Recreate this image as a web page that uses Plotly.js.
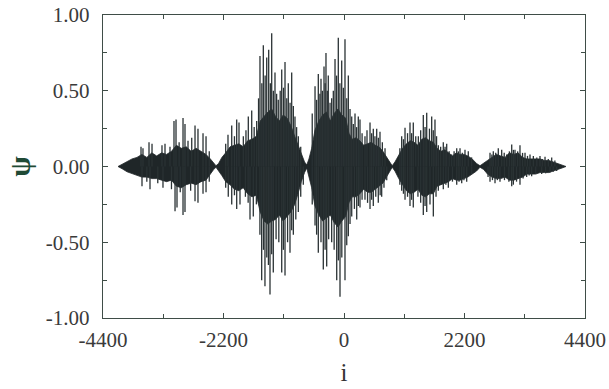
<!DOCTYPE html>
<html>
<head>
<meta charset="utf-8">
<script src="https://cdn.plot.ly/plotly-3.0.1.min.js"></script>
<style>html,body{margin:0;padding:0;background:#fff;}#chart{width:609px;height:389px;}</style>
</head>
<body>
<div id="chart"></div>
<script>
// Dense core of psi: upper and lower edge
const coreI = [-4126,-4050,-3960,-3870,-3780,-3690,-3600,-3510,-3420,-3330,-3240,-3150,-3060,-2970,-2880,-2790,-2700,-2610,-2520,-2440,-2380,-2337,
  -2290,-2230,-2160,-2080,-2000,-1920,-1840,-1760,-1680,-1600,-1530,-1460,-1390,-1320,-1250,-1180,-1110,-1040,-970,-900,-840,-780,-720,-680,
  -640,-590,-530,-460,-390,-320,-250,-180,-110,-40,30,90,150,220,290,360,430,500,570,640,710,780,840,880,
  930,1000,1070,1140,1210,1280,1350,1420,1490,1560,1630,1700,1770,1840,1910,1980,2050,2120,2190,2260,2340,2420,2483,
  2550,2620,2700,2780,2860,2940,3020,3100,3180,3260,3340,3420,3500,3580,3660,3740,3820,3900,3980,4053];
const coreUp = [0,0.015,0.03,0.05,0.06,0.08,0.06,0.09,0.07,0.09,0.08,0.10,0.14,0.12,0.13,0.10,0.12,0.10,0.08,0.05,0.02,0.005,
  0.02,0.06,0.09,0.13,0.14,0.15,0.13,0.17,0.18,0.20,0.30,0.33,0.36,0.38,0.33,0.30,0.34,0.32,0.27,0.20,0.14,0.08,0.03,0.01,
  0.05,0.12,0.24,0.30,0.34,0.36,0.30,0.35,0.38,0.34,0.32,0.22,0.18,0.19,0.17,0.14,0.15,0.16,0.14,0.13,0.10,0.06,0.02,0.005,
  0.03,0.08,0.12,0.15,0.17,0.16,0.14,0.18,0.19,0.17,0.16,0.12,0.10,0.11,0.09,0.07,0.09,0.08,0.08,0.07,0.05,0.02,0.005,
  0.02,0.04,0.06,0.08,0.07,0.06,0.09,0.08,0.09,0.06,0.05,0.05,0.05,0.05,0.04,0.04,0.03,0.02,0.01,0];
const coreDn = [0,-0.015,-0.035,-0.045,-0.06,-0.07,-0.07,-0.08,-0.08,-0.09,-0.10,-0.09,-0.13,-0.14,-0.12,-0.11,-0.12,-0.10,-0.09,-0.05,-0.02,-0.005,
  -0.03,-0.06,-0.10,-0.12,-0.15,-0.16,-0.14,-0.18,-0.20,-0.19,-0.30,-0.36,-0.38,-0.36,-0.35,-0.32,-0.36,-0.33,-0.30,-0.25,-0.18,-0.10,-0.04,-0.01,
  -0.06,-0.14,-0.26,-0.32,-0.36,-0.34,-0.32,-0.37,-0.40,-0.36,-0.33,-0.24,-0.20,-0.20,-0.18,-0.15,-0.17,-0.17,-0.15,-0.13,-0.11,-0.07,-0.03,-0.005,
  -0.03,-0.08,-0.12,-0.16,-0.18,-0.17,-0.15,-0.19,-0.20,-0.18,-0.18,-0.13,-0.12,-0.11,-0.10,-0.08,-0.09,-0.09,-0.08,-0.07,-0.05,-0.03,-0.005,
  -0.02,-0.05,-0.07,-0.08,-0.08,-0.07,-0.09,-0.09,-0.08,-0.07,-0.05,-0.05,-0.05,-0.04,-0.04,-0.04,-0.03,-0.02,-0.01,0];

// Upward peaks of psi
const peakUpI = [-3706,-3670,-3560,-3505,-3323,-3268,-3177,-3104,-3067,-3010,-2939,-2903,-2848,-2780,-2720,-2666,-2574,-2519,-2460,
  -2160,-2118,-2050,-2000,-1959,-1917,-1838,-1790,-1747,-1685,-1640,-1594,-1560,-1534,-1500,-1473,-1440,-1411,-1375,-1345,-1320,-1290,-1260,-1230,-1200,-1165,-1137,-1105,-1077,-1045,-1017,-985,-955,-925,-895,-865,-834,-790,
  -580,-529,-500,-469,-440,-420,-395,-365,-345,-329,-305,-287,-255,-225,-195,-164,-135,-104,-75,-42,-12,18,50,79,110,141,170,201,230,261,292,330,383,420,475,505,535,565,597,627,657,700,749,
  1020,1053,1085,1114,1160,1205,1235,1265,1310,1357,1400,1448,1480,1510,1560,1601,1630,1661,1690,1722,1765,1813,1845,1875,1920,1966,2010,2058,2088,2118,2160,2209,2269,2330,
  2666,2700,2726,2770,2817,2879,2925,2970,3020,3062,3092,3122,3170,3213,3260,3305,3350,3396,3457,3520,3578,3620,3670,3730,3792,3850];
const peakUpPsi = [0.13,0.12,0.16,0.15,0.14,0.15,0.13,0.30,0.31,0.16,0.32,0.28,0.17,0.19,0.27,0.25,0.22,0.20,0.10,
  0.15,0.21,0.27,0.20,0.31,0.29,0.20,0.24,0.33,0.37,0.26,0.30,0.45,0.73,0.55,0.80,0.60,0.72,0.77,0.55,0.88,0.50,0.62,0.48,0.44,0.50,0.64,0.52,0.69,0.45,0.55,0.42,0.62,0.40,0.33,0.26,0.20,0.13,
  0.35,0.53,0.44,0.61,0.48,0.58,0.50,0.66,0.55,0.75,0.50,0.60,0.42,0.45,0.50,0.71,0.60,0.85,0.55,0.70,0.52,0.84,0.45,0.60,0.38,0.33,0.28,0.35,0.26,0.33,0.31,0.22,0.20,0.24,0.29,0.22,0.25,0.20,0.25,0.19,0.23,0.16,0.12,
  0.12,0.20,0.18,0.255,0.22,0.29,0.22,0.29,0.20,0.20,0.24,0.34,0.26,0.355,0.25,0.33,0.24,0.31,0.20,0.14,0.13,0.16,0.13,0.15,0.10,0.08,0.10,0.12,0.10,0.12,0.09,0.11,0.10,0.06,
  0.09,0.08,0.10,0.09,0.12,0.11,0.09,0.08,0.10,0.145,0.11,0.11,0.10,0.14,0.09,0.09,0.07,0.08,0.07,0.06,0.07,0.05,0.065,0.05,0.06,0.04];

// Downward peaks of psi
const peakDnI = [-3688,-3600,-3542,-3400,-3305,-3150,-3085,-3049,-2990,-2939,-2903,-2800,-2720,-2666,-2574,-2519,-2460,
  -2160,-2113,-2050,-2000,-1959,-1899,-1800,-1750,-1716,-1656,-1600,-1535,-1503,-1470,-1443,-1410,-1380,-1351,-1320,-1291,-1240,-1190,-1137,-1107,-1077,-1030,-986,-955,-925,-880,-834,-790,-743,
  -580,-529,-500,-469,-420,-378,-345,-316,-280,-225,-180,-133,-103,-73,-40,18,50,79,110,141,190,232,262,292,330,383,430,475,505,535,580,626,660,688,730,780,
  1020,1053,1085,1114,1160,1205,1235,1265,1350,1400,1448,1480,1510,1570,1631,1680,1722,1765,1813,1860,1905,1980,2058,2100,2149,2190,2240,2331,
  2630,2666,2710,2757,2800,2848,2930,3010,3062,3092,3150,3213,3270,3335,3380,3426,3500,3609,3680,3761,3820,3883];
const peakDnPsi = [-0.13,-0.10,-0.15,-0.11,-0.14,-0.15,-0.295,-0.27,-0.17,-0.32,-0.30,-0.16,-0.23,-0.24,-0.18,-0.17,-0.10,
  -0.14,-0.20,-0.25,-0.19,-0.28,-0.25,-0.20,-0.24,-0.35,-0.33,-0.25,-0.45,-0.75,-0.55,-0.79,-0.60,-0.65,-0.845,-0.58,-0.70,-0.48,-0.50,-0.70,-0.55,-0.72,-0.50,-0.57,-0.42,-0.45,-0.35,-0.30,-0.20,-0.12,
  -0.25,-0.39,-0.45,-0.57,-0.50,-0.68,-0.55,-0.66,-0.48,-0.50,-0.55,-0.75,-0.62,-0.86,-0.60,-0.75,-0.52,-0.46,-0.38,-0.33,-0.28,-0.35,-0.26,-0.27,-0.22,-0.22,-0.24,-0.28,-0.22,-0.26,-0.20,-0.24,-0.19,-0.20,-0.14,-0.09,
  -0.12,-0.16,-0.18,-0.22,-0.20,-0.26,-0.22,-0.27,-0.20,-0.24,-0.32,-0.26,-0.30,-0.25,-0.33,-0.20,-0.16,-0.12,-0.15,-0.12,-0.14,-0.10,-0.12,-0.10,-0.11,-0.09,-0.10,-0.05,
  -0.07,-0.10,-0.09,-0.11,-0.09,-0.10,-0.09,-0.10,-0.13,-0.12,-0.10,-0.12,-0.08,-0.07,-0.06,-0.065,-0.05,-0.05,-0.045,-0.04,-0.035,-0.03];

const xTicks = [-4400,-2200,0,2200,4400];
const yTicks = [-1,-0.5,0,0.5,1];

function stems(xs, ys){
  const X=[],Y=[];
  for(let k=0;k<xs.length;k++){X.push(xs[k],xs[k],null);Y.push(0,ys[k],null);}
  return {X,Y};
}
const up = stems(peakUpI, peakUpPsi);
const dn = stems(peakDnI, peakDnPsi);
const coreX = coreI.concat(coreI.slice().reverse());
const coreY = coreUp.concat(coreDn.slice().reverse());

const ink = '#2a3234';
const frame = '#3f4d47';
const serif = 'Liberation Serif, Times New Roman, serif';
const fnt = {family:serif, size:21, color:'#3a3a3a'};

const data = [
  {x:coreX, y:coreY, type:'scatter', mode:'lines', fill:'toself', fillcolor:'#1f2628', line:{color:'#1f2628', width:0.8}, hoverinfo:'skip'},
  {x:up.X, y:up.Y, type:'scatter', mode:'lines', line:{color:ink, width:1.3}, connectgaps:false, hoverinfo:'skip'},
  {x:dn.X, y:dn.Y, type:'scatter', mode:'lines', line:{color:ink, width:1.3}, connectgaps:false, hoverinfo:'skip'}
];

const layout = {
  width:609, height:389,
  margin:{l:103, r:24, t:15, b:71},
  paper_bgcolor:'#fff', plot_bgcolor:'#fff',
  showlegend:false,
  xaxis:{range:[-4400,4400], tickmode:'array', tickvals:xTicks, ticktext:xTicks.map(String),
         ticks:'inside', ticklen:5, tickcolor:frame, showline:true, linecolor:frame, linewidth:1.2, mirror:'ticks',
         showgrid:false, zeroline:false, tickfont:fnt, ticklabelstandoff:3,
         minor:{tickvals:[-3300,-1100,1100,3300], ticks:'inside', ticklen:4, tickcolor:frame, showgrid:false},
         title:{text:'i', font:{family:serif, size:25, color:'#333'}, standoff:12}},
  yaxis:{range:[-1,1], tickmode:'array', tickvals:yTicks, ticktext:yTicks.map(v=>v.toFixed(2)),
         ticks:'inside', ticklen:5, tickcolor:frame, showline:true, linecolor:frame, linewidth:1.2, mirror:'ticks',
         showgrid:false, zeroline:false, tickfont:fnt, ticklabelstandoff:8,
         minor:{tickvals:[-0.75,-0.25,0.25,0.75], ticks:'inside', ticklen:4, tickcolor:frame, showgrid:false},
         title:{text:'ψ', font:{family:serif, size:30, color:'#1f4a35', weight:'bold'}, standoff:6}}
};

Plotly.newPlot('chart', data, layout, {displayModeBar:false, staticPlot:true});
</script>
</body>
</html>
